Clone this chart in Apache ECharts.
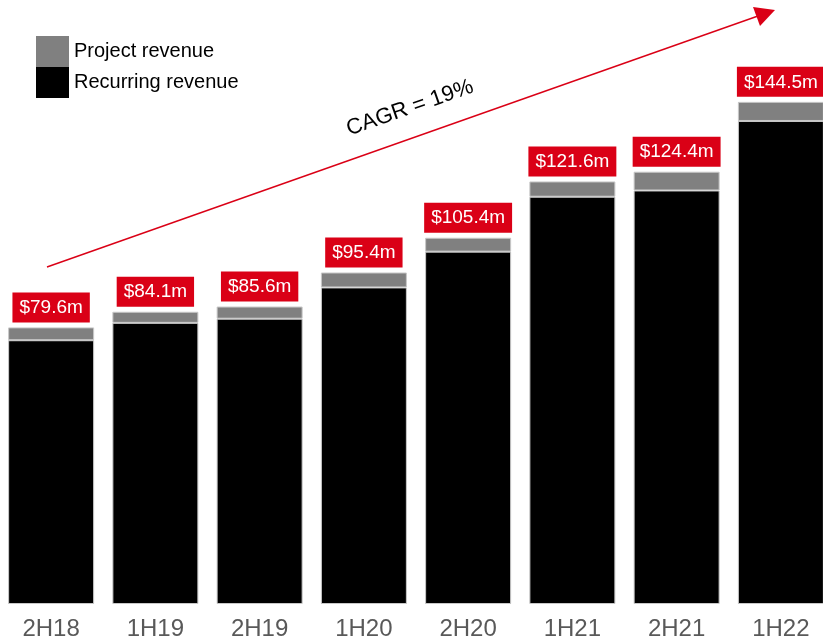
<!DOCTYPE html>
<html>
<head>
<meta charset="utf-8">
<script src="https://cdn.jsdelivr.net/npm/echarts@6/dist/echarts.min.js"></script>
<style>
  html, body { margin: 0; padding: 0; background: #fff; }
  #chart { width: 823px; height: 643px; }
</style>
</head>
<body>
<div id="chart"></div>
<script>
// half-year periods
const periods = ['2H18', '1H19', '2H19', '1H20', '2H20', '1H21', '2H21', '1H22']
// revenue split, $m
const recurring = [75.9, 80.9, 82.1, 91.1, 101.4, 117.2, 119.0, 139.0]
const project = [3.7, 3.2, 3.5, 4.3, 4.0, 4.4, 5.4, 5.5]
// totals printed in the red boxes
const totals = ['79.6', '84.1', '85.6', '95.4', '105.4', '121.6', '124.4', '144.5']

const RED = '#da0016'
const FONT = 'Liberation Sans, Arial, sans-serif'

const chart = echarts.init(document.getElementById('chart'))

chart.setOption({
  animation: false,
  textStyle: { fontFamily: FONT },
  legend: {
    left: 36,
    top: 36,
    padding: 0,
    orient: 'vertical',
    icon: 'rect',
    itemWidth: 33,
    itemHeight: 31,
    itemGap: 0,
    selectedMode: false,
    itemStyle: { borderWidth: 0 },
    textStyle: { fontSize: 20, color: '#000' },
    data: ['Project revenue', 'Recurring revenue']
  },
  grid: {
    left: -1,
    width: 834,
    top: 48,
    bottom: 39,
    containLabel: false,
    outerBoundsMode: 'none'
  },
  xAxis: {
    type: 'category',
    data: periods,
    axisLine: { show: false },
    axisTick: { show: false },
    axisLabel: {
      color: '#595959',
      fontSize: 24,
      margin: 13
    }
  },
  yAxis: {
    type: 'value',
    min: 0,
    max: 160,
    show: false,
    splitLine: { show: false }
  },
  graphic: [
    {
      // title, cut off by the top edge so only its baseline shows
      type: 'text',
      left: 37,
      top: -18,
      style: {
        text: 'Total revenue and recurrent revenue',
        fill: RED,
        opacity: 0.6,
        font: 'bold 22px ' + FONT
      }
    },
    {
      type: 'line',
      shape: { x1: 47, y1: 267, x2: 758, y2: 16 },
      style: { stroke: RED, lineWidth: 1.4 }
    },
    {
      type: 'polygon',
      shape: { points: [[775, 10], [753, 7], [760, 26]] },
      style: { fill: RED }
    },
    {
      type: 'text',
      x: 410,
      y: 108,
      rotation: 0.335,
      style: {
        text: 'CAGR = 19%',
        fill: '#000',
        font: '22px ' + FONT,
        align: 'center',
        verticalAlign: 'middle'
      }
    }
  ],
  series: [
    {
      name: 'Recurring revenue',
      type: 'bar',
      stack: 'rev',
      barWidth: 86,
      itemStyle: { color: '#000', borderColor: '#c8c8c8', borderWidth: 1 },
      data: recurring
    },
    {
      name: 'Project revenue',
      type: 'bar',
      stack: 'rev',
      barWidth: 86,
      itemStyle: { color: '#808080', borderColor: '#c8c8c8', borderWidth: 1 },
      label: {
        show: true,
        position: 'top',
        distance: 5,
        color: '#fff',
        fontSize: 19,
        lineHeight: 19,
        backgroundColor: RED,
        padding: [6, 7, 5, 7],
        formatter: p => '$' + totals[p.dataIndex] + 'm'
      },
      data: project
    }
  ]
})
</script>
</body>
</html>
